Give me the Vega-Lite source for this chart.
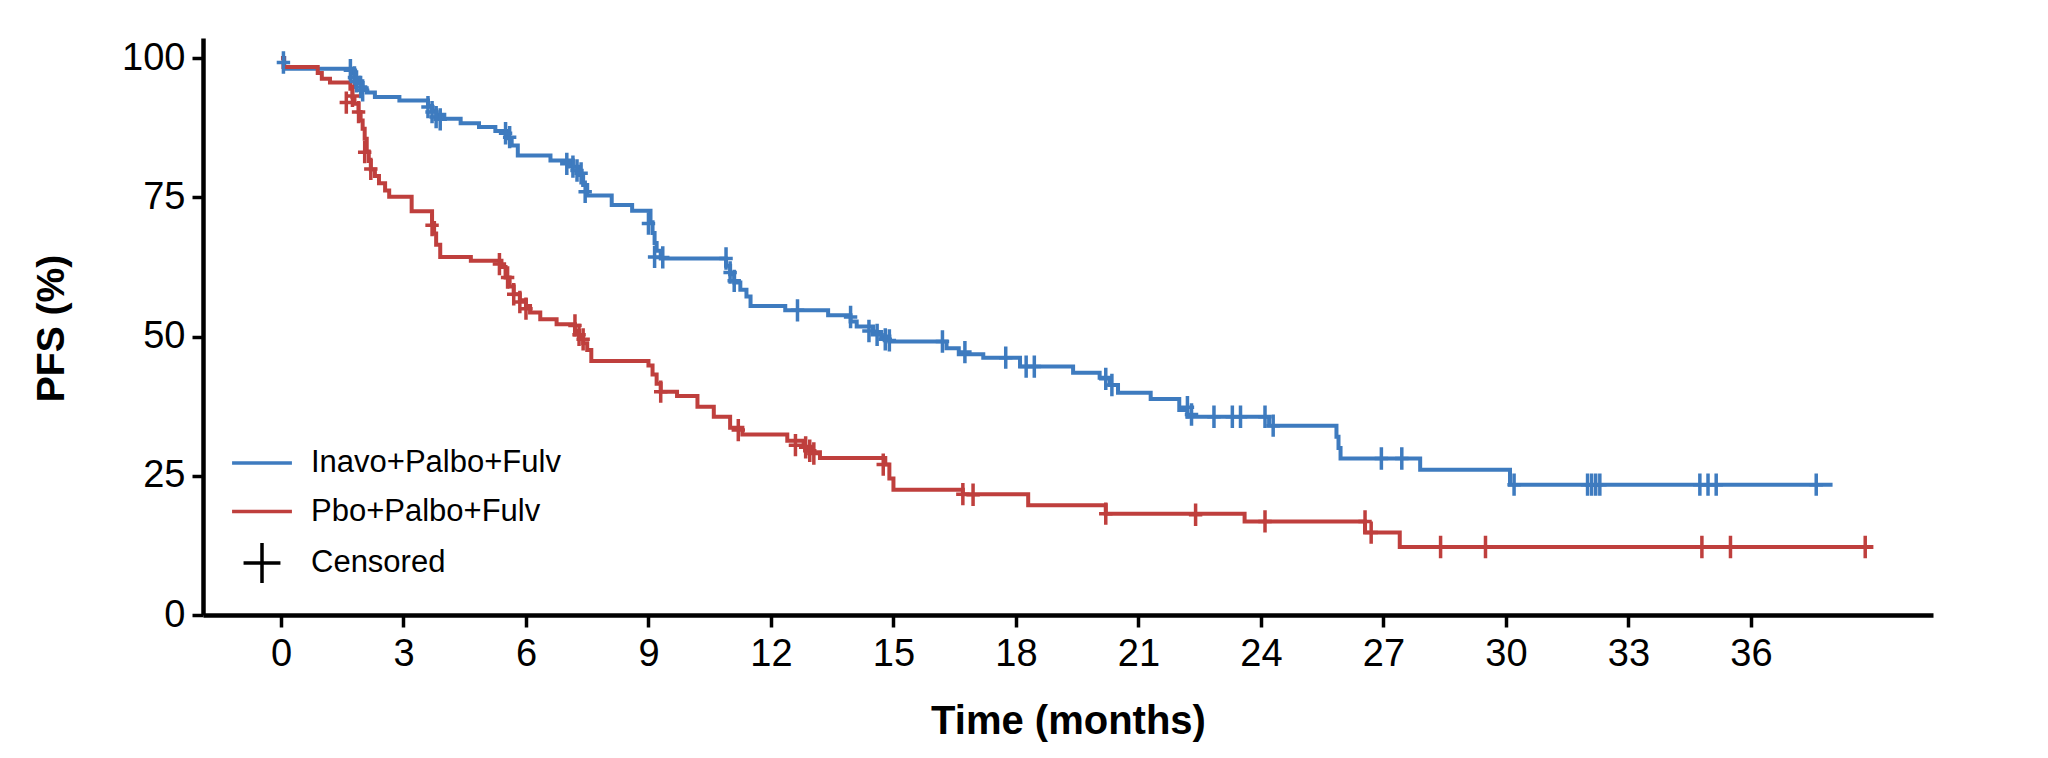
{
  "$schema": "https://vega.github.io/schema/vega-lite/v6.json",
  "autosize": {"type": "none"},
  "width": 1730,
  "height": 577,
  "padding": {"left": 203, "top": 38, "right": 115, "bottom": 143},
  "background": "white",
  "config": {"font": "Liberation Sans", "view": {"stroke": null}},
  "datasets": {
    "curve": [
      {"group": "Inavo+Palbo+Fulv", "t": 0, "s": 100},
      {"group": "Inavo+Palbo+Fulv", "t": 0.08, "s": 98.1},
      {"group": "Inavo+Palbo+Fulv", "t": 1.75, "s": 97.2},
      {"group": "Inavo+Palbo+Fulv", "t": 1.8, "s": 96.3},
      {"group": "Inavo+Palbo+Fulv", "t": 1.9, "s": 95.5},
      {"group": "Inavo+Palbo+Fulv", "t": 2.0, "s": 94.6},
      {"group": "Inavo+Palbo+Fulv", "t": 2.1, "s": 93.8},
      {"group": "Inavo+Palbo+Fulv", "t": 2.3, "s": 93.0},
      {"group": "Inavo+Palbo+Fulv", "t": 2.9, "s": 92.4},
      {"group": "Inavo+Palbo+Fulv", "t": 3.6, "s": 91.4},
      {"group": "Inavo+Palbo+Fulv", "t": 3.7, "s": 90.6},
      {"group": "Inavo+Palbo+Fulv", "t": 3.8, "s": 89.8},
      {"group": "Inavo+Palbo+Fulv", "t": 4.0, "s": 89.1},
      {"group": "Inavo+Palbo+Fulv", "t": 4.4, "s": 88.3},
      {"group": "Inavo+Palbo+Fulv", "t": 4.85, "s": 87.6},
      {"group": "Inavo+Palbo+Fulv", "t": 5.25, "s": 86.9},
      {"group": "Inavo+Palbo+Fulv", "t": 5.55, "s": 85.6},
      {"group": "Inavo+Palbo+Fulv", "t": 5.65, "s": 84.3},
      {"group": "Inavo+Palbo+Fulv", "t": 5.8, "s": 82.5},
      {"group": "Inavo+Palbo+Fulv", "t": 6.6, "s": 81.6},
      {"group": "Inavo+Palbo+Fulv", "t": 7.15, "s": 80.5},
      {"group": "Inavo+Palbo+Fulv", "t": 7.3, "s": 79.0},
      {"group": "Inavo+Palbo+Fulv", "t": 7.4, "s": 77.2},
      {"group": "Inavo+Palbo+Fulv", "t": 7.5, "s": 75.3},
      {"group": "Inavo+Palbo+Fulv", "t": 8.1, "s": 73.6},
      {"group": "Inavo+Palbo+Fulv", "t": 8.6, "s": 72.6},
      {"group": "Inavo+Palbo+Fulv", "t": 9.05, "s": 70.5},
      {"group": "Inavo+Palbo+Fulv", "t": 9.1, "s": 68.6},
      {"group": "Inavo+Palbo+Fulv", "t": 9.15, "s": 66.8},
      {"group": "Inavo+Palbo+Fulv", "t": 9.2, "s": 65.4},
      {"group": "Inavo+Palbo+Fulv", "t": 9.3, "s": 64.0},
      {"group": "Inavo+Palbo+Fulv", "t": 10.9, "s": 62.7},
      {"group": "Inavo+Palbo+Fulv", "t": 11.0, "s": 61.2},
      {"group": "Inavo+Palbo+Fulv", "t": 11.1, "s": 59.7},
      {"group": "Inavo+Palbo+Fulv", "t": 11.25, "s": 58.4},
      {"group": "Inavo+Palbo+Fulv", "t": 11.4, "s": 57.2},
      {"group": "Inavo+Palbo+Fulv", "t": 11.5, "s": 55.5},
      {"group": "Inavo+Palbo+Fulv", "t": 12.35, "s": 54.7},
      {"group": "Inavo+Palbo+Fulv", "t": 13.4, "s": 53.8},
      {"group": "Inavo+Palbo+Fulv", "t": 13.95, "s": 52.7},
      {"group": "Inavo+Palbo+Fulv", "t": 14.1, "s": 51.8},
      {"group": "Inavo+Palbo+Fulv", "t": 14.5, "s": 50.8},
      {"group": "Inavo+Palbo+Fulv", "t": 14.7, "s": 50.0},
      {"group": "Inavo+Palbo+Fulv", "t": 14.9, "s": 49.1},
      {"group": "Inavo+Palbo+Fulv", "t": 16.3, "s": 47.9},
      {"group": "Inavo+Palbo+Fulv", "t": 16.6, "s": 46.8},
      {"group": "Inavo+Palbo+Fulv", "t": 17.2, "s": 46.2},
      {"group": "Inavo+Palbo+Fulv", "t": 18.1, "s": 44.6},
      {"group": "Inavo+Palbo+Fulv", "t": 19.4, "s": 43.5},
      {"group": "Inavo+Palbo+Fulv", "t": 20.05, "s": 42.6},
      {"group": "Inavo+Palbo+Fulv", "t": 20.3, "s": 41.3},
      {"group": "Inavo+Palbo+Fulv", "t": 20.5, "s": 39.9},
      {"group": "Inavo+Palbo+Fulv", "t": 21.3, "s": 38.8},
      {"group": "Inavo+Palbo+Fulv", "t": 22.0, "s": 36.8},
      {"group": "Inavo+Palbo+Fulv", "t": 22.2, "s": 35.6},
      {"group": "Inavo+Palbo+Fulv", "t": 24.2, "s": 34.0},
      {"group": "Inavo+Palbo+Fulv", "t": 25.85, "s": 32.0},
      {"group": "Inavo+Palbo+Fulv", "t": 25.9, "s": 30.0},
      {"group": "Inavo+Palbo+Fulv", "t": 25.95, "s": 28.1},
      {"group": "Inavo+Palbo+Fulv", "t": 27.9, "s": 26.1},
      {"group": "Inavo+Palbo+Fulv", "t": 30.1, "s": 23.4},
      {"group": "Inavo+Palbo+Fulv", "t": 38.0, "s": 23.4},
      {"group": "Pbo+Palbo+Fulv", "t": 0, "s": 100},
      {"group": "Pbo+Palbo+Fulv", "t": 0.06, "s": 98.4},
      {"group": "Pbo+Palbo+Fulv", "t": 0.9, "s": 97.3},
      {"group": "Pbo+Palbo+Fulv", "t": 1.0, "s": 96.3},
      {"group": "Pbo+Palbo+Fulv", "t": 1.2, "s": 95.6},
      {"group": "Pbo+Palbo+Fulv", "t": 1.7, "s": 94.5},
      {"group": "Pbo+Palbo+Fulv", "t": 1.75, "s": 93.0},
      {"group": "Pbo+Palbo+Fulv", "t": 1.8, "s": 91.8},
      {"group": "Pbo+Palbo+Fulv", "t": 1.9, "s": 90.3},
      {"group": "Pbo+Palbo+Fulv", "t": 1.95, "s": 88.8},
      {"group": "Pbo+Palbo+Fulv", "t": 2.0, "s": 87.3},
      {"group": "Pbo+Palbo+Fulv", "t": 2.05, "s": 85.5},
      {"group": "Pbo+Palbo+Fulv", "t": 2.1, "s": 83.2},
      {"group": "Pbo+Palbo+Fulv", "t": 2.15, "s": 81.5},
      {"group": "Pbo+Palbo+Fulv", "t": 2.2, "s": 80.0},
      {"group": "Pbo+Palbo+Fulv", "t": 2.3, "s": 78.8},
      {"group": "Pbo+Palbo+Fulv", "t": 2.4, "s": 77.5},
      {"group": "Pbo+Palbo+Fulv", "t": 2.55, "s": 76.2},
      {"group": "Pbo+Palbo+Fulv", "t": 2.65, "s": 75.1},
      {"group": "Pbo+Palbo+Fulv", "t": 3.2, "s": 72.5},
      {"group": "Pbo+Palbo+Fulv", "t": 3.7, "s": 70.4},
      {"group": "Pbo+Palbo+Fulv", "t": 3.75, "s": 68.5},
      {"group": "Pbo+Palbo+Fulv", "t": 3.8, "s": 66.5},
      {"group": "Pbo+Palbo+Fulv", "t": 3.9, "s": 64.3},
      {"group": "Pbo+Palbo+Fulv", "t": 4.65, "s": 63.6},
      {"group": "Pbo+Palbo+Fulv", "t": 5.4, "s": 62.5},
      {"group": "Pbo+Palbo+Fulv", "t": 5.5, "s": 60.6},
      {"group": "Pbo+Palbo+Fulv", "t": 5.6, "s": 59.0},
      {"group": "Pbo+Palbo+Fulv", "t": 5.7, "s": 57.6},
      {"group": "Pbo+Palbo+Fulv", "t": 5.85, "s": 56.5},
      {"group": "Pbo+Palbo+Fulv", "t": 6.0, "s": 55.5},
      {"group": "Pbo+Palbo+Fulv", "t": 6.1, "s": 54.3},
      {"group": "Pbo+Palbo+Fulv", "t": 6.35, "s": 53.1},
      {"group": "Pbo+Palbo+Fulv", "t": 6.75, "s": 52.2},
      {"group": "Pbo+Palbo+Fulv", "t": 7.2, "s": 51.0},
      {"group": "Pbo+Palbo+Fulv", "t": 7.3, "s": 50.0},
      {"group": "Pbo+Palbo+Fulv", "t": 7.4, "s": 48.8},
      {"group": "Pbo+Palbo+Fulv", "t": 7.5, "s": 47.6},
      {"group": "Pbo+Palbo+Fulv", "t": 7.6, "s": 45.6},
      {"group": "Pbo+Palbo+Fulv", "t": 9.0, "s": 44.8},
      {"group": "Pbo+Palbo+Fulv", "t": 9.1, "s": 43.2},
      {"group": "Pbo+Palbo+Fulv", "t": 9.2, "s": 41.5},
      {"group": "Pbo+Palbo+Fulv", "t": 9.3, "s": 40.1},
      {"group": "Pbo+Palbo+Fulv", "t": 9.7, "s": 39.3},
      {"group": "Pbo+Palbo+Fulv", "t": 10.2, "s": 37.4},
      {"group": "Pbo+Palbo+Fulv", "t": 10.6, "s": 35.6},
      {"group": "Pbo+Palbo+Fulv", "t": 11.0, "s": 33.6},
      {"group": "Pbo+Palbo+Fulv", "t": 11.3, "s": 32.4},
      {"group": "Pbo+Palbo+Fulv", "t": 12.4, "s": 31.3},
      {"group": "Pbo+Palbo+Fulv", "t": 12.8, "s": 30.2},
      {"group": "Pbo+Palbo+Fulv", "t": 13.0, "s": 29.2},
      {"group": "Pbo+Palbo+Fulv", "t": 13.2, "s": 28.2},
      {"group": "Pbo+Palbo+Fulv", "t": 14.8, "s": 27.0},
      {"group": "Pbo+Palbo+Fulv", "t": 14.9, "s": 24.5},
      {"group": "Pbo+Palbo+Fulv", "t": 15.0, "s": 22.5},
      {"group": "Pbo+Palbo+Fulv", "t": 16.7, "s": 21.7},
      {"group": "Pbo+Palbo+Fulv", "t": 18.3, "s": 19.7},
      {"group": "Pbo+Palbo+Fulv", "t": 20.2, "s": 18.2},
      {"group": "Pbo+Palbo+Fulv", "t": 23.6, "s": 16.8},
      {"group": "Pbo+Palbo+Fulv", "t": 26.55, "s": 14.8},
      {"group": "Pbo+Palbo+Fulv", "t": 27.4, "s": 12.2},
      {"group": "Pbo+Palbo+Fulv", "t": 39.0, "s": 12.2}
    ],
    "censor": [
      {"group": "Inavo+Palbo+Fulv", "t": 0.06, "s": 99.2},
      {"group": "Inavo+Palbo+Fulv", "t": 1.7, "s": 97.8},
      {"group": "Inavo+Palbo+Fulv", "t": 1.8, "s": 96.5},
      {"group": "Inavo+Palbo+Fulv", "t": 1.85, "s": 95.8},
      {"group": "Inavo+Palbo+Fulv", "t": 1.95, "s": 94.8},
      {"group": "Inavo+Palbo+Fulv", "t": 2.0, "s": 94.2},
      {"group": "Inavo+Palbo+Fulv", "t": 3.6, "s": 91.2},
      {"group": "Inavo+Palbo+Fulv", "t": 3.7, "s": 90.3},
      {"group": "Inavo+Palbo+Fulv", "t": 3.8, "s": 89.4},
      {"group": "Inavo+Palbo+Fulv", "t": 3.9, "s": 89.0},
      {"group": "Inavo+Palbo+Fulv", "t": 5.5, "s": 86.5},
      {"group": "Inavo+Palbo+Fulv", "t": 5.6, "s": 85.8},
      {"group": "Inavo+Palbo+Fulv", "t": 7.0, "s": 81.0},
      {"group": "Inavo+Palbo+Fulv", "t": 7.15, "s": 80.5},
      {"group": "Inavo+Palbo+Fulv", "t": 7.25, "s": 79.8},
      {"group": "Inavo+Palbo+Fulv", "t": 7.35, "s": 79.3},
      {"group": "Inavo+Palbo+Fulv", "t": 7.45, "s": 76.0},
      {"group": "Inavo+Palbo+Fulv", "t": 9.0, "s": 70.3},
      {"group": "Inavo+Palbo+Fulv", "t": 9.15, "s": 64.3},
      {"group": "Inavo+Palbo+Fulv", "t": 9.35, "s": 64.2},
      {"group": "Inavo+Palbo+Fulv", "t": 10.9, "s": 64.0},
      {"group": "Inavo+Palbo+Fulv", "t": 11.0, "s": 61.5},
      {"group": "Inavo+Palbo+Fulv", "t": 11.1, "s": 60.0},
      {"group": "Inavo+Palbo+Fulv", "t": 12.65, "s": 54.7},
      {"group": "Inavo+Palbo+Fulv", "t": 13.95, "s": 53.5},
      {"group": "Inavo+Palbo+Fulv", "t": 14.4, "s": 51.0},
      {"group": "Inavo+Palbo+Fulv", "t": 14.6, "s": 50.3},
      {"group": "Inavo+Palbo+Fulv", "t": 14.8, "s": 49.5},
      {"group": "Inavo+Palbo+Fulv", "t": 14.9, "s": 49.3},
      {"group": "Inavo+Palbo+Fulv", "t": 16.2, "s": 49.1},
      {"group": "Inavo+Palbo+Fulv", "t": 16.75, "s": 47.2},
      {"group": "Inavo+Palbo+Fulv", "t": 17.75, "s": 46.2},
      {"group": "Inavo+Palbo+Fulv", "t": 18.25, "s": 44.6},
      {"group": "Inavo+Palbo+Fulv", "t": 18.45, "s": 44.6},
      {"group": "Inavo+Palbo+Fulv", "t": 20.2, "s": 42.4},
      {"group": "Inavo+Palbo+Fulv", "t": 20.35, "s": 41.3},
      {"group": "Inavo+Palbo+Fulv", "t": 22.2, "s": 37.3},
      {"group": "Inavo+Palbo+Fulv", "t": 22.3, "s": 36.0},
      {"group": "Inavo+Palbo+Fulv", "t": 22.85, "s": 35.6},
      {"group": "Inavo+Palbo+Fulv", "t": 23.3, "s": 35.6},
      {"group": "Inavo+Palbo+Fulv", "t": 23.5, "s": 35.6},
      {"group": "Inavo+Palbo+Fulv", "t": 24.1, "s": 35.6},
      {"group": "Inavo+Palbo+Fulv", "t": 24.3, "s": 34.0},
      {"group": "Inavo+Palbo+Fulv", "t": 26.95, "s": 28.1},
      {"group": "Inavo+Palbo+Fulv", "t": 27.45, "s": 28.1},
      {"group": "Inavo+Palbo+Fulv", "t": 30.2, "s": 23.4},
      {"group": "Inavo+Palbo+Fulv", "t": 32.0, "s": 23.4},
      {"group": "Inavo+Palbo+Fulv", "t": 32.1, "s": 23.4},
      {"group": "Inavo+Palbo+Fulv", "t": 32.2, "s": 23.4},
      {"group": "Inavo+Palbo+Fulv", "t": 32.3, "s": 23.4},
      {"group": "Inavo+Palbo+Fulv", "t": 34.75, "s": 23.4},
      {"group": "Inavo+Palbo+Fulv", "t": 34.95, "s": 23.4},
      {"group": "Inavo+Palbo+Fulv", "t": 35.15, "s": 23.4},
      {"group": "Inavo+Palbo+Fulv", "t": 37.6, "s": 23.4},
      {"group": "Pbo+Palbo+Fulv", "t": 1.6, "s": 92.0},
      {"group": "Pbo+Palbo+Fulv", "t": 1.75, "s": 93.2},
      {"group": "Pbo+Palbo+Fulv", "t": 1.9, "s": 90.3},
      {"group": "Pbo+Palbo+Fulv", "t": 2.05, "s": 83.1},
      {"group": "Pbo+Palbo+Fulv", "t": 2.2, "s": 80.1},
      {"group": "Pbo+Palbo+Fulv", "t": 3.7, "s": 70.0},
      {"group": "Pbo+Palbo+Fulv", "t": 5.35, "s": 63.0},
      {"group": "Pbo+Palbo+Fulv", "t": 5.55, "s": 60.6},
      {"group": "Pbo+Palbo+Fulv", "t": 5.7, "s": 57.6},
      {"group": "Pbo+Palbo+Fulv", "t": 5.85, "s": 56.2},
      {"group": "Pbo+Palbo+Fulv", "t": 6.0, "s": 55.0},
      {"group": "Pbo+Palbo+Fulv", "t": 7.2, "s": 52.0},
      {"group": "Pbo+Palbo+Fulv", "t": 7.3, "s": 50.3},
      {"group": "Pbo+Palbo+Fulv", "t": 7.4, "s": 49.5},
      {"group": "Pbo+Palbo+Fulv", "t": 9.3, "s": 40.1},
      {"group": "Pbo+Palbo+Fulv", "t": 11.2, "s": 33.2},
      {"group": "Pbo+Palbo+Fulv", "t": 12.6, "s": 30.5},
      {"group": "Pbo+Palbo+Fulv", "t": 12.85, "s": 30.1},
      {"group": "Pbo+Palbo+Fulv", "t": 12.95, "s": 29.5},
      {"group": "Pbo+Palbo+Fulv", "t": 13.05, "s": 29.0},
      {"group": "Pbo+Palbo+Fulv", "t": 14.75, "s": 27.0},
      {"group": "Pbo+Palbo+Fulv", "t": 16.7, "s": 21.7},
      {"group": "Pbo+Palbo+Fulv", "t": 16.95, "s": 21.6},
      {"group": "Pbo+Palbo+Fulv", "t": 20.2, "s": 18.2},
      {"group": "Pbo+Palbo+Fulv", "t": 22.4, "s": 18.0},
      {"group": "Pbo+Palbo+Fulv", "t": 24.1, "s": 16.8},
      {"group": "Pbo+Palbo+Fulv", "t": 26.55, "s": 16.8},
      {"group": "Pbo+Palbo+Fulv", "t": 26.7, "s": 14.8},
      {"group": "Pbo+Palbo+Fulv", "t": 28.4, "s": 12.2},
      {"group": "Pbo+Palbo+Fulv", "t": 29.5, "s": 12.2},
      {"group": "Pbo+Palbo+Fulv", "t": 34.8, "s": 12.2},
      {"group": "Pbo+Palbo+Fulv", "t": 35.5, "s": 12.2},
      {"group": "Pbo+Palbo+Fulv", "t": 38.8, "s": 12.2}
    ]
  },
  "encoding": {
    "x": {
      "field": "t",
      "type": "quantitative",
      "scale": {"domain": [-1.91, 40.46], "nice": false, "zero": false},
      "axis": {
        "values": [0, 3, 6, 9, 12, 15, 18, 21, 24, 27, 30, 33, 36],
        "title": "Time (months)",
        "titleFont": "Liberation Sans",
        "titleFontSize": 40,
        "titleFontWeight": "bold",
        "titleColor": "black",
        "titleBaseline": "alphabetic",
        "titleY": 118,
        "labelFont": "Liberation Sans",
        "labelFontSize": 38,
        "labelColor": "black",
        "labelPadding": 8,
        "labelFlush": false,
        "labelOverlap": false,
        "domainColor": "black",
        "domainWidth": 4.5,
        "tickColor": "black",
        "tickWidth": 3.5,
        "tickSize": 12,
        "grid": false
      }
    },
    "y": {
      "field": "s",
      "type": "quantitative",
      "scale": {"domain": [0, 103.6], "nice": false},
      "axis": {
        "values": [0, 25, 50, 75, 100],
        "title": "PFS (%)",
        "titleFont": "Liberation Sans",
        "titleFontSize": 39,
        "titleFontWeight": "bold",
        "titleColor": "black",
        "titleAngle": 270,
        "titleBaseline": "alphabetic",
        "titleAlign": "center",
        "titleX": -140,
        "titleY": 290,
        "labelFont": "Liberation Sans",
        "labelFontSize": 38,
        "labelColor": "black",
        "labelPadding": 7,
        "labelFlush": false,
        "labelOverlap": false,
        "domainColor": "black",
        "domainWidth": 4.5,
        "tickColor": "black",
        "tickWidth": 3.5,
        "tickSize": 11,
        "grid": false
      }
    },
    "color": {
      "field": "group",
      "type": "nominal",
      "scale": {
        "domain": ["Inavo+Palbo+Fulv", "Pbo+Palbo+Fulv", "Censored"],
        "range": ["#3E7BBF", "#BF3F3D", "#000000"]
      },
      "legend": {
        "orient": "none",
        "legendX": 34.5,
        "legendY": 400.5,
        "title": null,
        "padding": 0,
        "symbolType": "M-1.33,0H1.33",
        "symbolSize": 2025,
        "symbolStrokeWidth": 3.5,
        "symbolOpacity": 1,
        "symbolFillColor": "transparent",
        "labelFont": "Liberation Sans",
        "labelFontSize": 31,
        "labelColor": "black",
        "labelOffset": 24.5,
        "rowPadding": 8.5,
        "labelLimit": 600,
        "encode": {
          "symbols": {
            "update": {
              "shape": {"signal": "datum.value === 'Censored' ? 'M-0.82,0H0.82M0,-0.89V0.89' : 'M-1.33,0H1.33'"},
              "fill": {"value": "transparent"}
            }
          }
        }
      }
    }
  },
  "layer": [
    {
      "data": {"name": "curve"},
      "mark": {"type": "line", "interpolate": "step-after", "strokeWidth": 4},
      "encoding": {"order": {"field": "t", "type": "quantitative"}}
    },
    {
      "data": {"name": "censor"},
      "mark": {
        "type": "point",
        "shape": "M-0.6,0H0.6M0,-1V1",
        "size": 500,
        "filled": false,
        "strokeWidth": 3.5,
        "opacity": 1
      }
    }
  ]
}
